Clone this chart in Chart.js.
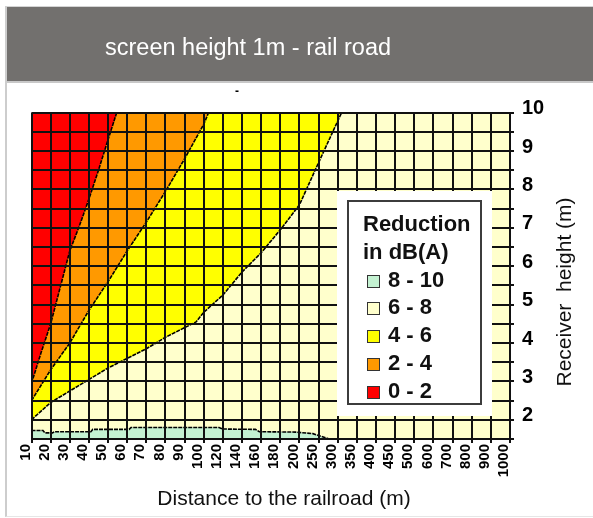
<!DOCTYPE html>
<html>
<head>
<meta charset="utf-8">
<script src="https://cdn.jsdelivr.net/npm/chart.js@4.4.1/dist/chart.umd.min.js"></script>
<style>
  body { margin: 0; width: 593px; height: 518px; background: #fff; position: relative; overflow: hidden;
         font-family: 'Liberation Sans', Arial, sans-serif; }
  #chart { position: absolute; left: 0; top: 0; }
  #card { position: absolute; left: 5px; top: 6px; width: 586px; height: 509px;
          border-left: 2px solid #cdcdcd; border-top: 1px solid #d4d4d4; border-bottom: 1px solid #e6e6e6; }
  #header { position: absolute; left: 0; top: 0; right: 0; height: 74px; background: #72706e;
            border-bottom: 2px solid #c8c8c8; }
  #header span { position: absolute; left: 98px; top: 27px; line-height: 26px; color: #fff; font-size: 23.5px; white-space: nowrap; }
  #dash { position: absolute; left: 235px; top: 84px; font-size: 12px; font-weight: bold; }
  #legendBox { position: absolute; left: 337px; top: 191px; width: 155px; height: 225px; background: #fff; }
  #legend { position: absolute; left: 347px; top: 200px; width: 135px; height: 205px; box-sizing: border-box;
            border: 2px solid #3c3c3c; padding: 8px 0 0 14px; font-weight: bold; font-size: 22px; color: #111; }
  #legend div { line-height: 27.8px; white-space: nowrap; }
  #legend i { display: inline-block; width: 11px; height: 11px; border: 1px solid #333; margin: 0 8px 0 4px;
              vertical-align: -1px; }
</style>
</head>
<body>
<canvas id="chart" width="593" height="518"></canvas>
<div id="card"><div id="header"><span>screen height 1m - rail road</span></div></div>
<div id="dash">-</div>
<div id="legendBox"></div>
<div id="legend"></div>
<script>
// Data
const distances = [10, 20, 30, 40, 50, 60, 70, 80, 90, 100, 120, 140, 160, 180, 200,
                   250, 300, 350, 400, 450, 500, 600, 700, 800, 900, 1000];

// contour edges: x = position along the distance axis (tick index), y = receiver height (m)
const redEdgeX = [0, 0.5, 1, 1.5, 2, 2.5, 3, 3.5, 4, 4.45];
const redEdgeY = [2.95, 3.75, 4.5, 5.45, 6.4, 7.05, 7.75, 8.5, 9.3, 10];

const orangeEdgeX = [0, 1, 2, 3, 4, 5, 6, 7, 8, 9, 9.25];
const orangeEdgeY = [2.5, 3.3, 4.0, 4.85, 5.6, 6.4, 7.15, 7.95, 8.8, 9.7, 10];

const yellowEdgeX = [0, 1, 2, 3, 4, 5, 6, 7, 8, 8.6, 9, 10, 11, 12, 13, 14, 15, 16.2];
const yellowEdgeY = [2.0, 2.45, 2.75, 3.05, 3.35, 3.6, 3.85, 4.15, 4.4, 4.55, 4.8, 5.25, 5.85, 6.35, 6.95, 7.6, 8.7, 10];

const greenEdgeX = [0, 0.6, 0.7, 1.1, 1.2, 3.1, 3.2, 5.1, 5.2, 9.8, 10, 11.7, 11.9, 13.8, 14.7, 15.55];
const greenEdgeY = [1.72, 1.72, 1.66, 1.66, 1.69, 1.69, 1.75, 1.75, 1.8, 1.8, 1.76, 1.75, 1.69, 1.68, 1.64, 1.5];

const bandLabels = ['8 - 10', '6 - 8', '4 - 6', '2 - 4', '0 - 2'];
const bandColors = ['#c4f2d2', '#ffffcc', '#ffff00', '#ff9900', '#ff0000'];

const xTitle = 'Distance to the railroad (m)';
const yTitle = 'Receiver  height (m)';

const FONT = "'Liberation Sans', Arial, sans-serif";

function points(xs, ys) {
    return xs.map((x, i) => ({ x: x, y: ys[i] }));
}

function edge(xs, ys, color, fill) {
    return {
        data: points(xs, ys),
        backgroundColor: color,
        borderColor: '#000',
        borderWidth: 1.6,
        borderDash: [4, 1],
        fill: fill,
        pointRadius: 0,
        tension: 0
    };
}

// cream base + axis titles
const plotBackground = {
    id: 'plotBackground',
    beforeDraw(chart) {
        const { ctx, chartArea: a } = chart;
        ctx.save();
        ctx.fillStyle = bandColors[1];
        ctx.fillRect(a.left, a.top, a.right - a.left, a.bottom - a.top);
        ctx.restore();
    }
};

const axisTitles = {
    id: 'axisTitles',
    afterDraw(chart) {
        const ctx = chart.ctx;
        ctx.save();
        ctx.font = '21px ' + FONT;
        ctx.fillStyle = '#111';
        ctx.textAlign = 'center';
        ctx.textBaseline = 'middle';
        ctx.fillText(xTitle, 284, 499);
        ctx.translate(565, 292);
        ctx.rotate(-Math.PI / 2);
        ctx.fillText(yTitle, 0, 0);
        ctx.restore();
    }
};

const chart = new Chart(document.getElementById('chart'), {
    type: 'line',
    data: {
        datasets: [
            edge(redEdgeX, redEdgeY, bandColors[4], 'end'),
            edge(orangeEdgeX, orangeEdgeY, bandColors[3], 'end'),
            edge(yellowEdgeX, yellowEdgeY, bandColors[2], 'end'),
            edge(greenEdgeX, greenEdgeY, bandColors[0], 'start')
        ]
    },
    options: {
        responsive: false,
        animation: false,
        layout: { padding: { left: 31.5, top: 112.7, right: 0, bottom: 0 } },
        plugins: {
            legend: { display: false },
            tooltip: { enabled: false }
        },
        scales: {
            x: {
                type: 'linear',
                min: 0,
                max: distances.length - 1,
                afterFit: (s) => { s.height = 79; },
                grid: { color: '#111', lineWidth: 2, z: 1, tickLength: 4, tickColor: '#111' },
                border: { color: '#111', width: 2, z: 1 },
                ticks: {
                    stepSize: 1,
                    autoSkip: false,
                    minRotation: 90,
                    maxRotation: 90,
                    padding: 1,
                    labelOffset: -6,
                    color: '#000',
                    font: { family: FONT, size: 15, weight: 'bold' },
                    callback: (v) => distances[v]
                }
            },
            y: {
                type: 'linear',
                position: 'right',
                min: 1.5,
                max: 10,
                afterFit: (s) => { s.width = 83; },
                grid: { color: '#111', lineWidth: 2, z: 1, tickLength: 4, tickColor: '#111' },
                border: { color: '#111', width: 2, z: 1 },
                ticks: {
                    stepSize: 0.5,
                    autoSkip: false,
                    padding: 8,
                    labelOffset: -4,
                    color: '#000',
                    font: { family: FONT, size: 20, weight: 'bold' },
                    callback: (v) => Number.isInteger(v) ? v : ''
                }
            }
        }
    },
    plugins: [plotBackground, axisTitles]
});

// Legend
const legend = document.getElementById('legend');
['Reduction', 'in dB(A)'].forEach(t => {
    const row = document.createElement('div');
    row.textContent = t;
    legend.appendChild(row);
});
bandLabels.forEach((label, i) => {
    const row = document.createElement('div');
    const box = document.createElement('i');
    box.style.background = bandColors[i];
    row.appendChild(box);
    row.appendChild(document.createTextNode(label));
    legend.appendChild(row);
});
</script>
</body>
</html>
